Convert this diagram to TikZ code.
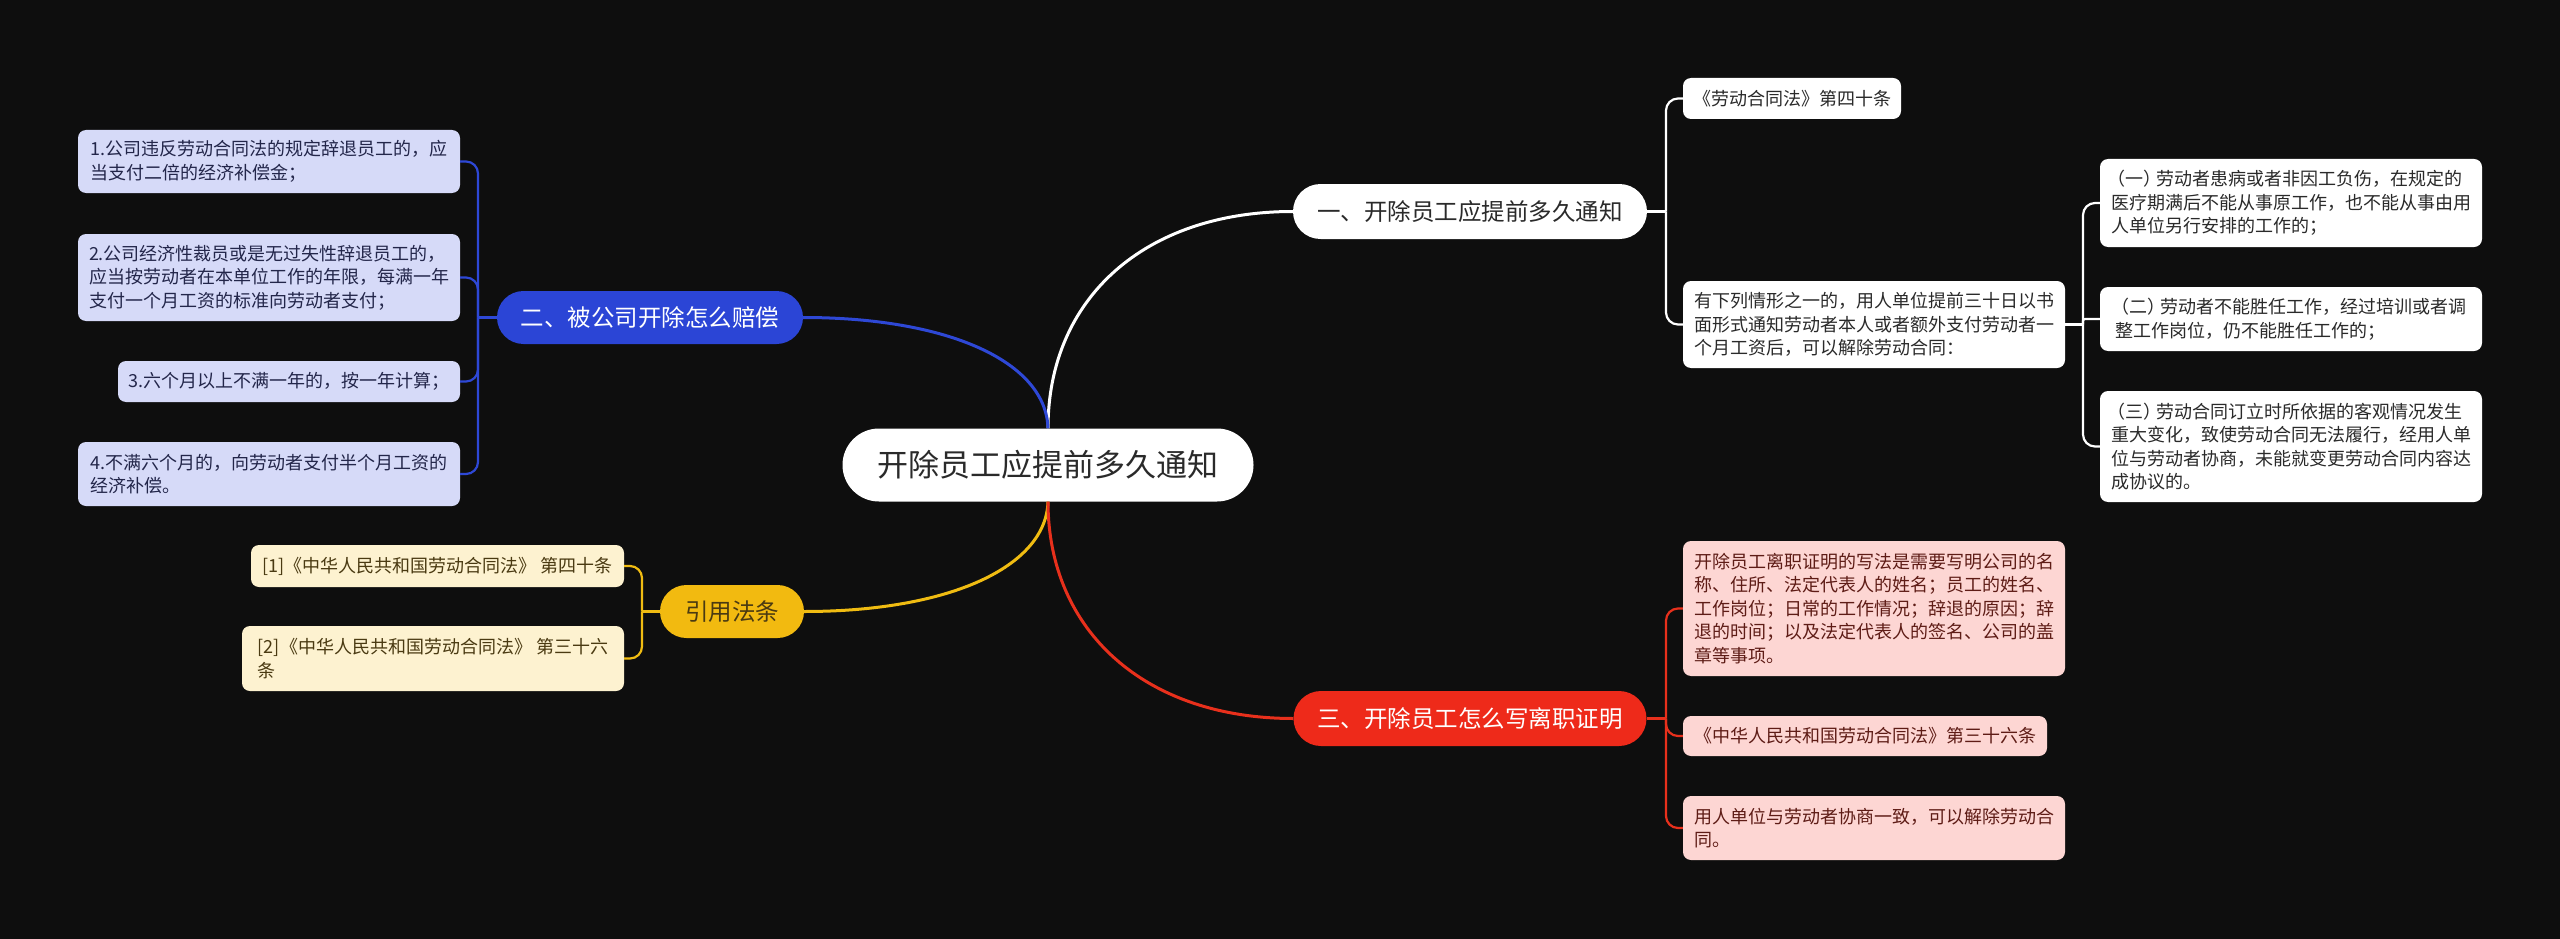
\documentclass[tikz,border=0pt]{standalone}
\usepackage{fontspec}
\setmainfont{Noto Sans CJK SC}
\usetikzlibrary{shapes.misc}
\definecolor{bg}{HTML}{0E0E0E}
\definecolor{wline}{HTML}{FFFFFF}
\definecolor{bline}{HTML}{2E48D6}
\definecolor{yline}{HTML}{F0BC12}
\definecolor{rline}{HTML}{E8301C}
\definecolor{bfill}{HTML}{2B45D6}
\definecolor{yfill}{HTML}{F2BA10}
\definecolor{rfill}{HTML}{EE2A1A}
\definecolor{bsub}{HTML}{D6DAF8}
\definecolor{ysub}{HTML}{FDF2D0}
\definecolor{rsub}{HTML}{FDD6D3}
\definecolor{btext}{HTML}{23264A}
\definecolor{ytext}{HTML}{4A3A12}
\definecolor{rtext}{HTML}{5E1C16}
\definecolor{dtext}{HTML}{2A2A2A}
\newcommand\fsub{\fontsize{18}{23.5}\selectfont}
\newcommand\fmain{\fontsize{23.5}{28}\selectfont}
\newcommand\fcenter{\fontsize{31}{38}\selectfont}
\newcommand\numpar[1]{\kern-0.2em（#1）\kern-0.3em}
\begin{document}
\begin{tikzpicture}[x=1pt,y=-1pt,
  pill/.style={rounded rectangle, inner sep=2pt, font=\fmain},
  sub/.style={rectangle, rounded corners=8pt, inner sep=2pt, align=left, font=\fsub},
  wsub/.style={sub, fill=white, text=dtext},
  bsubn/.style={sub, fill=bsub, text=btext},
  ysubn/.style={sub, fill=ysub, text=ytext},
  rsubn/.style={sub, fill=rsub, text=rtext},
  mainc/.style={line width=3pt},
  brk/.style={line width=2.2pt, rounded corners=12pt},
  brks/.style={line width=2.2pt, rounded corners=2pt}
]
\fill[bg] (0,0) rectangle (2560,939);
\useasboundingbox (0,0) rectangle (2560,939);

% central
\node[pill, fill=white, text=dtext, font=\fcenter, minimum width=415pt, minimum height=73pt] (C) at (1048,465) {开除员工应提前多久通知};

% branch 一
\node[pill, fill=white, text=dtext, minimum width=358pt, minimum height=55pt] (A) at (1470,211.5) {一、开除员工应提前多久通知};
\node[wsub, minimum width=218pt, minimum height=41pt] (A1) at (1792,98.5) {《劳动合同法》第四十条};
\node[wsub, minimum width=382pt, minimum height=87pt] (A2) at (1874,324.5) {有下列情形之一的，用人单位提前三十日以书\\面形式通知劳动者本人或者额外支付劳动者一\\个月工资后，可以解除劳动合同：};
\node[wsub, minimum width=382pt, minimum height=88pt] (A21) at (2291,203) {\numpar{一}劳动者患病或者非因工负伤，在规定的\\医疗期满后不能从事原工作，也不能从事由用\\人单位另行安排的工作的；};
\node[wsub, minimum width=382pt, minimum height=64pt] (A22) at (2291,319) {\numpar{二}劳动者不能胜任工作，经过培训或者调\\整工作岗位，仍不能胜任工作的；};
\node[wsub, minimum width=382pt, minimum height=111pt] (A23) at (2291,446.5) {\numpar{三}劳动合同订立时所依据的客观情况发生\\重大变化，致使劳动合同无法履行，经用人单\\位与劳动者协商，未能就变更劳动合同内容达\\成协议的。};

% branch 二
\node[pill, fill=bfill, text=white, minimum width=310pt, minimum height=53pt] (B) at (650,317.5) {二、被公司开除怎么赔偿};
\node[bsubn, minimum width=382pt, minimum height=63pt] (B1) at (269,161.5) {1.公司违反劳动合同法的规定辞退员工的，应\\当支付二倍的经济补偿金；};
\node[bsubn, minimum width=382pt, minimum height=87pt] (B2) at (269,277.5) {2.公司经济性裁员或是无过失性辞退员工的，\\应当按劳动者在本单位工作的年限，每满一年\\支付一个月工资的标准向劳动者支付；};
\node[bsubn, minimum width=342pt, minimum height=41pt] (B3) at (289,381.5) {3.六个月以上不满一年的，按一年计算；};
\node[bsubn, minimum width=382pt, minimum height=64pt] (B4) at (269,474) {4.不满六个月的，向劳动者支付半个月工资的\\经济补偿。};

% branch 引用法条
\node[pill, fill=yfill, text=ytext, minimum width=148pt, minimum height=53pt] (Q) at (732,611.5) {引用法条};
\node[ysubn, minimum width=373pt, minimum height=42pt] (Q1) at (437.5,566) {[1]《中华人民共和国劳动合同法》 第四十条};
\node[ysubn, minimum width=382pt, minimum height=65pt] (Q2) at (433,658.5) {[2]《中华人民共和国劳动合同法》 第三十六\\条};

% branch 三
\node[pill, fill=rfill, text=white, minimum width=357pt, minimum height=55pt] (D) at (1470,718.5) {三、开除员工怎么写离职证明};
\node[rsubn, minimum width=382pt, minimum height=135pt] (D1) at (1874,608.5) {开除员工离职证明的写法是需要写明公司的名\\称、住所、法定代表人的姓名；员工的姓名、\\工作岗位；日常的工作情况；辞退的原因；辞\\退的时间；以及法定代表人的签名、公司的盖\\章等事项。};
\node[rsubn, minimum width=364pt, minimum height=40pt] (D2) at (1865,736) {《中华人民共和国劳动合同法》第三十六条};
\node[rsubn, minimum width=382pt, minimum height=64pt] (D3) at (1874,828) {用人单位与劳动者协商一致，可以解除劳动合\\同。};

% main connectors
\draw[mainc, wline] (C.north) .. controls (1048,298) and (1145,211.5) .. (A.west);
\draw[mainc, bline] (C.north) .. controls (1046,362) and (949,317.5) .. (B.east);
\draw[mainc, yline] (C.south) .. controls (1046,567) and (949,611.5) .. (Q.east);
\draw[mainc, rline] (C.south) .. controls (1048,631) and (1145,718.5) .. (D.west);

% junctions
\coordinate (Aj) at (1666,211.5);
\coordinate (A2j) at (2083,324.5);
\coordinate (Bj) at (478,317.5);
\coordinate (Qj) at (642,611.5);
\coordinate (Dj) at (1666,718.5);

\draw[line width=2.2pt, wline] (A.east) -- (Aj);
\draw[brk, wline] (Aj) |- (A1.west);
\draw[brk, wline] (Aj) |- (A2.west);

\draw[line width=2.2pt, wline] (A2.east) -- (A2j);
\draw[brk, wline] (A2j) |- (A21.west);
\draw[brks, wline] (A2j) |- (A22.west);
\draw[brk, wline] (A2j) |- (A23.west);

\draw[line width=2.2pt, bline] (B.west) -- (Bj);
\draw[brk, bline] (Bj) |- (B1.east);
\draw[brk, bline] (Bj) |- (B2.east);
\draw[brk, bline] (Bj) |- (B3.east);
\draw[brk, bline] (Bj) |- (B4.east);

\draw[line width=2.2pt, yline] (Q.west) -- (Qj);
\draw[brk, yline] (Qj) |- (Q1.east);
\draw[brk, yline] (Qj) |- (Q2.east);

\draw[line width=2.2pt, rline] (D.east) -- (Dj);
\draw[brk, rline] (Dj) |- (D1.west);
\draw[brk, rline] (Dj) |- (D2.west);
\draw[brk, rline] (Dj) |- (D3.west);
\end{tikzpicture}
\end{document}
